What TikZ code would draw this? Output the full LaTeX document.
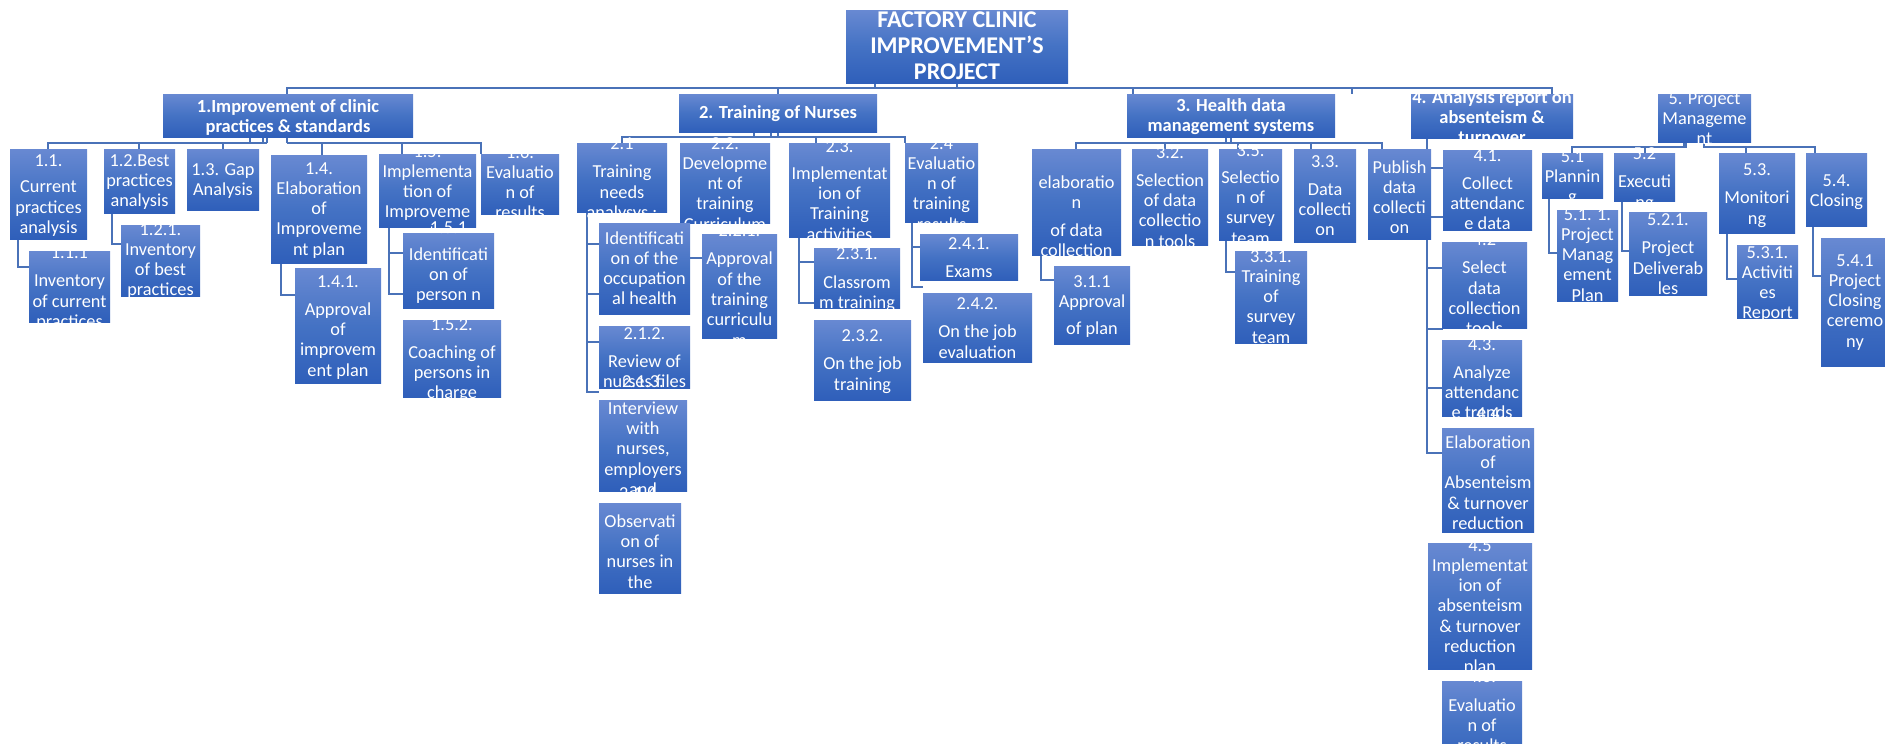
\documentclass[tikz,border=0pt]{standalone}
\usepackage{fontspec}
\setmainfont{Carlito}
\definecolor{boxtop}{HTML}{6889D2}
\definecolor{boxmid}{HTML}{4472C4}
\definecolor{boxbot}{HTML}{2F5FBA}
\definecolor{linkblue}{HTML}{4A72B8}
\tikzset{
  wbsbox/.style={rectangle, inner sep=0pt, outer sep=0pt,
    top color=boxtop, bottom color=boxbot, middle color=boxmid,
    text=white, font=\fontsize{18.3pt}{20.3pt}\selectfont},
  headbox/.style={wbsbox, font=\fontsize{18.5pt}{20.3pt}\selectfont\bfseries},
  rootbox/.style={wbsbox, font=\fontsize{24pt}{26.4pt}\selectfont\bfseries},
  link/.style={draw=linkblue, line width=1.6pt},
}
% \wbs{style}{name}{x1}{y1}{x2}{y2}{first baseline}{text}
% The box keeps its size; the text is centred horizontally and may run past the box.
\newcommand\wbs[8]{%
  \pgfmathsetmacro\wcx{(#3+#5)/2}%
  \pgfmathsetmacro\wcy{(#4+#6)/2}%
  \pgfmathsetmacro\wraise{\wcy-#7}%
  \pgfmathsetmacro\ww{#5-#3}%
  \pgfmathsetmacro\wh{#6-#4}%
  \node[#1, minimum width=\ww pt, minimum height=\wh pt] (#2) at (\wcx,\wcy)
    {\makebox[0pt]{\raisebox{\wraise pt}[0pt][0pt]{\parbox[t]{260pt}{\centering #8}}}};%
}
\begin{document}
\begin{tikzpicture}[x=1pt,y=-1pt]
\useasboundingbox (0,0) rectangle (1885,744);
\clip (0,0) rectangle (1885,744);

% ---------- connectors ----------
% top level
\draw[link] (957,83) -- (957,88);
\draw[link] (875,83) -- (875,88);
\draw[link] (287,143) -- (287,88) -- (1552,88) -- (1552,94);
\draw[link] (778,88) -- (778,94);
\draw[link] (1133,88) -- (1133,94);
\draw[link] (1352,88) -- (1352,94);
% under 1
\draw[link] (48,149) -- (48,143) -- (267,143);
\draw[link] (139,143) -- (139,149);
\draw[link] (223,143) -- (223,149);
\draw[link] (250,137) -- (250,143);
\draw[link] (263,137) -- (263,143);
\draw[link] (267,137) -- (267,143);
\draw[link] (287,143) -- (481,143) -- (481,154);
\draw[link] (322,143) -- (322,155);
\draw[link] (402,143) -- (402,154);
\draw[link] (18,239) |- (29,267);
\draw[link] (112,213) |- (121,244);
\draw[link] (281,263) |- (295,295);
\draw[link] (389,227) |- (403,294);
\draw[link] (389,253) -- (403,253);
% under 2
\draw[link] (622,143) -- (622,137) -- (905,137) -- (905,143);
\draw[link] (816,137) -- (816,143);
\draw[link] (754,132) -- (754,137);
\draw[link] (771,132) -- (771,137);
\draw[link] (778,132) -- (778,137);
\draw[link] (587,212) |- (599,392);
\draw[link] (587,244) -- (599,244);
\draw[link] (587,294) -- (599,294);
\draw[link] (587,342) -- (599,342);
\draw[link] (688,223) |- (702,258);
\draw[link] (799,237) |- (814,303);
\draw[link] (799,262) -- (814,262);
\draw[link] (912,222) |- (923,287);
\draw[link] (912,247) -- (920,247);
% under 3
\draw[link] (1076,149) -- (1076,143) -- (1382,143) -- (1382,149);
\draw[link] (1165,143) -- (1165,149);
\draw[link] (1238,143) -- (1238,149);
\draw[link] (1311,143) -- (1311,149);
\draw[link] (1226,137) -- (1226,143);
\draw[link] (1231,137) -- (1231,143);
\draw[link] (1041,255) |- (1054,280);
\draw[link] (1226,240) |- (1235,272);
% under 4
\draw[link] (1427,138) |- (1443,453);
\foreach \yy in {168,217,268,329,388} \draw[link] (1427,\yy) -- (1443,\yy);
% under 5
\draw[link] (1572,153) -- (1572,147) -- (1686,147) -- (1686,142);
\draw[link] (1645,147) -- (1645,153);
\draw[link] (1684,142) -- (1684,147);
\draw[link] (1704,142) -- (1704,147) -- (1815,147) -- (1815,153);
\draw[link] (1746,147) -- (1746,153);
\draw[link] (1549,198) |- (1557,253);
\draw[link] (1622,201) |- (1629,251);
\draw[link] (1727,233) |- (1737,279);
\draw[link] (1813,226) |- (1821,276);

% ---------- boxes ----------
\wbs{rootbox}{root}{846}{10}{1068}{83}{27}{FACTORY CLINIC\\IMPROVEMENT’S\\PROJECT}

\wbs{headbox}{p1}{163}{94}{413}{137}{112}{1.Improvement of clinic\\practices \& standards}
\wbs{headbox}{p2}{679}{94}{877}{132}{118}{2. Training of Nurses}
\wbs{headbox}{p3}{1127}{94}{1335}{137}{111.5}{3. Health data\\management systems}
\wbs{headbox}{p4}{1411}{94}{1573}{138}{103}{4. Analysis report on\\absenteism \&\\turnover}
\wbs{wbsbox}{p5}{1658}{94}{1751}{142}{104}{5. Project\\Manageme\\nt}

% branch 1
\wbs{wbsbox}{p11}{10}{149}{87}{239}{166}{1.1.\\[6.5pt]Current\\practices\\analysis}
\wbs{wbsbox}{p111}{29}{251}{110}{322}{258}{1.1.1\\[8.5pt]Inventory\\of current\\practices}
\wbs{wbsbox}{p12}{104}{149}{175}{213}{166}{1.2.Best\\practices\\analysis}
\wbs{wbsbox}{p121}{121}{225}{200}{296}{235}{1.2.1.\\Inventory\\of best\\practices}
\wbs{wbsbox}{p13}{187}{149}{259}{210}{175}{1.3. Gap\\Analysis}
\wbs{wbsbox}{p14}{271}{155}{367}{263}{174}{1.4.\\Elaboration\\of\\Improveme\\nt plan}
\wbs{wbsbox}{p141}{295}{268}{381}{383}{287}{1.4.1.\\[8pt]Approval\\of\\improvem\\ent plan}
\wbs{wbsbox}{p15}{379}{154}{476}{227}{157}{1.5.\\Implementa\\tion of\\Improveme\\nt}
\wbs{wbsbox}{p151}{403}{233}{494}{308}{233}{1.5.1\\[7pt]Identificati\\on of\\person n}
\wbs{wbsbox}{p152}{403}{320}{501}{397}{330}{1.5.2.\\[8pt]Coaching of\\persons in\\charge}
\wbs{wbsbox}{p16}{481}{154}{559}{214}{158}{1.6.\\Evaluatio\\n of\\results}

% branch 2
\wbs{wbsbox}{p21}{577}{143}{667}{212}{149}{2.1\\[8.5pt]Training\\needs\\analysys :}
\wbs{wbsbox}{p22}{680}{143}{770}{223}{149}{2.2.\\Developme\\nt of\\training\\Curriculum}
\wbs{wbsbox}{p211}{599}{223}{690}{314}{244}{Identificati\\on of the\\occupation\\al health}
\wbs{wbsbox}{p221}{702}{234}{777}{338}{236}{2.2.1.\\[8.5pt]Approval\\of the\\training\\curriculu\\m}
\wbs{wbsbox}{p212}{599}{326}{690}{388}{339}{2.1.2.\\[8pt]Review of\\nurses files}
\wbs{wbsbox}{p213}{599}{400}{687}{491}{387}{2.1.3.\\[7pt]Interview\\with\\nurses,\\employers\\and}
\wbs{wbsbox}{p214}{599}{503}{681}{593}{499}{2.1.4.\\[8pt]Observati\\on of\\nurses in\\the}
\wbs{wbsbox}{p23}{789}{143}{890}{237}{152}{2.3.\\[7pt]Implementat\\ion of\\Training\\activities}
\wbs{wbsbox}{p24}{905}{143}{978}{222}{149}{2.4\\Evaluatio\\n of\\training\\results}
\wbs{wbsbox}{p231}{814}{248}{900}{308}{259}{2.3.1.\\[9pt]Classrom\\m training}
\wbs{wbsbox}{p232}{814}{320}{911}{400}{341}{2.3.2.\\[8.5pt]On the job\\training}
\wbs{wbsbox}{p241}{920}{234}{1018}{280}{249}{2.4.1.\\[8.5pt]Exams}
\wbs{wbsbox}{p242}{923}{293}{1032}{362}{309}{2.4.2.\\[8.5pt]On the job\\evaluation}

% branch 3
\wbs{wbsbox}{p31}{1032}{149}{1121}{255}{188}{elaboratio\\n\\[8pt]of data\\collection}
\wbs{wbsbox}{p311}{1054}{266}{1130}{344}{287}{3.1.1\\Approval\\[7pt]of plan}
\wbs{wbsbox}{p32}{1132}{149}{1208}{245}{158}{3.2.\\[8pt]Selection\\of data\\collectio\\n tools}
\wbs{wbsbox}{p35}{1219}{149}{1282}{240}{156}{3.5.\\[7pt]Selectio\\n of\\survey\\team}
\wbs{wbsbox}{p331}{1235}{251}{1307}{343}{262}{3.3.1.\\Training\\of\\survey\\team}
\wbs{wbsbox}{p33}{1294}{149}{1356}{242}{167}{3.3.\\[8pt]Data\\collecti\\on}
\wbs{wbsbox}{pub}{1368}{149}{1431}{239}{173}{Publish\\data\\collecti\\on}

% branch 4
\wbs{wbsbox}{p41}{1443}{150}{1532}{230}{161}{4.1.\\[8pt]Collect\\attendanc\\e data}
\wbs{wbsbox}{p42}{1442}{242}{1527}{328}{245}{4.2\\[8.5pt]Select\\data\\collection\\tools}
\wbs{wbsbox}{p43}{1442}{340}{1522}{416}{350}{4.3.\\[8pt]Analyze\\attendanc\\e trends}
\wbs{wbsbox}{p44}{1442}{428}{1534}{532}{419.5}{4.4\\[8.5pt]Elaboration\\of\\Absenteism\\\& turnover\\reduction\\plan}
\wbs{wbsbox}{p45}{1428}{543}{1532}{669}{551}{4.5\\Implementat\\ion of\\absenteism\\\& turnover\\reduction\\plan}
\wbs{wbsbox}{p46}{1442}{681}{1522}{770}{682.5}{4.6.\\[8.5pt]Evaluatio\\n of\\results}

% branch 5
\wbs{wbsbox}{p51}{1542}{153}{1603}{198}{162}{5.1\\Plannin\\g}
\wbs{wbsbox}{p52}{1614}{153}{1675}{201}{159}{5.2\\[8.5pt]Executi\\ng}
\wbs{wbsbox}{p53}{1719}{153}{1795}{233}{175}{5.3.\\[8.5pt]Monitori\\ng}
\wbs{wbsbox}{p54}{1806}{153}{1867}{226}{186}{5.4.\\Closing}
\wbs{wbsbox}{p511}{1557}{210}{1618}{301}{220}{5.1. 1.\\Project\\Manag\\ement\\Plan}
\wbs{wbsbox}{p521}{1629}{212}{1707}{295}{225}{5.2.1.\\[8.5pt]Project\\Deliverab\\les}
\wbs{wbsbox}{p531}{1737}{245}{1798}{318}{258}{5.3.1.\\Activiti\\es\\Report}
\wbs{wbsbox}{p541}{1821}{238}{1889}{366}{266}{5.4.1\\Project\\Closing\\ceremo\\ny}
\end{tikzpicture}
\end{document}
